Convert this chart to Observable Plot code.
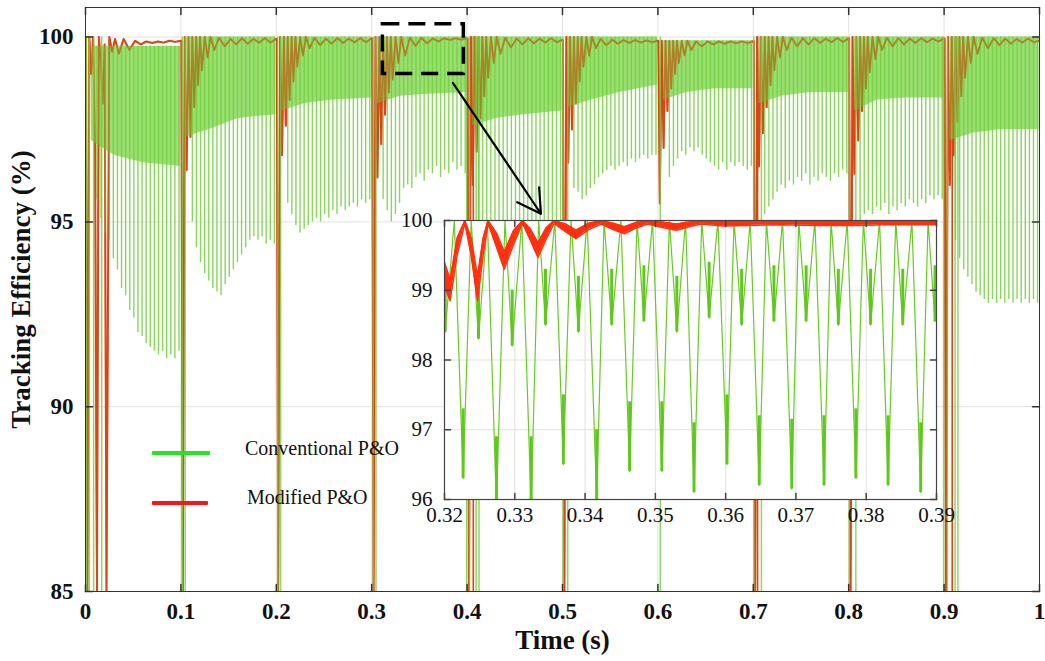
<!DOCTYPE html>
<html><head><meta charset="utf-8">
<script src="https://cdn.jsdelivr.net/npm/d3@7"></script>
<script src="https://cdn.jsdelivr.net/npm/@observablehq/plot@0.6"></script>
<style>
body{margin:0;background:#fff;}
#wrap{position:relative;width:1045px;height:661px;overflow:hidden;background:#fff;}
#main{position:absolute;left:0;top:0;}
#inset{position:absolute;left:394px;top:200px;}
.legtxt{position:absolute;font-family:"Liberation Serif","Times New Roman",serif;font-size:20px;color:#111;white-space:nowrap;}
.legline{position:absolute;height:4px;border-radius:1px;}
</style></head><body>
<div id="wrap"><div id="main"></div><div id="inset"></div>
<div class="legline" style="left:152px;top:451px;width:58px;background:#22e822;"></div>
<div class="legtxt" style="left:245px;top:437px;">Conventional P&amp;O</div>
<div class="legline" style="left:152px;top:501px;width:56px;background:#ff1414;"></div>
<div class="legtxt" style="left:247px;top:486px;">Modified P&amp;O</div>
</div>
<script>
// ---------------- data ----------------
const segStarts = [0, 0.1, 0.2, 0.3, 0.4, 0.5, 0.6, 0.7, 0.8, 0.9];
const xTicks = [0, 0.1, 0.2, 0.3, 0.4, 0.5, 0.6, 0.7, 0.8, 0.9, 1];
const yTicks = [85, 90, 95, 100];

// deep dips of conventional P&O (offset within each 0.1 s segment)
const dipOffsets = [0.012, 0.0163, 0.0206, 0.0249, 0.0292, 0.0335, 0.0378, 0.0421, 0.0464, 0.0507, 0.055, 0.0593, 0.0636, 0.0679, 0.0722, 0.0765, 0.0808, 0.0851, 0.0894, 0.0937, 0.098];
const dipDepths = [
  [95.6, 95.1, 94.7, 94.5, 94.0, 93.7, 93.2, 93.0, 92.6, 92.4, 92.0, 91.9, 91.7, 91.6, 91.5, 91.4, 91.5, 91.3, 91.4, 91.3, 91.5],
  [95.0, 94.3, 93.9, 93.6, 93.4, 93.2, 93.1, 93.0, 93.3, 93.5, 93.7, 93.9, 94.1, 94.3, 94.5, 94.6, 94.5, 94.6, 94.4, 94.5, 94.4],
  [95.5, 95.2, 94.9, 94.7, 94.8, 94.9, 95.0, 95.1, 95.0, 95.2, 95.1, 95.3, 95.2, 95.4, 95.3, 95.4, 95.5, 95.4, 95.6, 95.5, 95.6],
  [95.6, 95.3, 95.0, 95.2, 95.5, 95.9, 96.0, 95.9, 96.2, 96.3, 96.1, 96.4, 96.3, 96.5, 96.2, 96.4, 96.3, 96.6, 96.4, 96.5, 96.3],
  [94.6, 94.2, 94.0, 93.8, 93.7, 93.6, 93.5, 93.6, 93.5, 93.7, 93.6, 93.8, 93.7, 93.9, 93.8, 94.0, 93.9, 94.1, 94.0, 94.2, 94.1],
  [95.9, 95.8, 95.6, 95.7, 95.9, 96.0, 96.2, 96.3, 96.4, 96.5, 96.4, 96.5, 96.6, 96.5, 96.7, 96.6, 96.7, 96.8, 96.7, 96.8, 96.8],
  [96.2, 96.5, 96.7, 96.9, 96.8, 97.0, 96.9, 97.0, 96.8, 96.7, 96.6, 96.5, 96.4, 96.6, 96.4, 96.6, 96.5, 96.6, 96.5, 96.4, 96.5],
  [95.2, 95.4, 95.6, 95.8, 96.0, 95.9, 96.1, 96.0, 96.2, 96.1, 96.3, 96.0, 96.2, 96.1, 96.3, 96.2, 96.1, 96.3, 96.2, 96.4, 96.3],
  [95.0, 95.2, 95.3, 95.2, 95.4, 95.3, 95.5, 95.2, 95.4, 95.3, 95.5, 95.4, 95.6, 95.5, 95.4, 95.6, 95.5, 95.7, 95.6, 95.7, 95.6],
  [94.5, 94.0, 93.7, 93.5, 93.3, 93.1, 93.0, 92.9, 92.8, 92.9, 92.8, 92.9, 92.8, 92.9, 92.8, 92.9, 92.8, 92.9, 92.8, 92.9, 92.8]
];

// dense oscillation band of conventional P&O
const bandOffsets = [0.006, 0.03, 0.06, 0.0995];
const bandLow = [
  [97.2, 96.8, 96.6, 96.5], [97.3, 97.5, 97.8, 97.9], [98.0, 98.2, 98.3, 98.35],
  [98.2, 98.4, 98.45, 98.5], [97.6, 97.8, 97.9, 98.0], [98.1, 98.3, 98.5, 98.7],
  [98.3, 98.5, 98.6, 98.6], [98.2, 98.4, 98.5, 98.5], [98.0, 98.3, 98.35, 98.35],
  [97.2, 97.4, 97.5, 97.5]
];
const bandHigh = [99.75, 100, 100, 100, 100, 100, 99.9, 100, 100, 100];

// transient drops of conventional P&O at each step
const greenDropT = [0.001, 0.004, 0.0085, 0.017, 0.1015, 0.1045, 0.2015, 0.2045, 0.3015, 0.3045, 0.3995, 0.4025, 0.4095, 0.4125, 0.5005, 0.5055, 0.6025, 0.7005, 0.7085, 0.8005, 0.8075, 0.8995, 0.9035, 0.9115, 0.9145];
const greenDropMin = [85, 85, 85, 85, 85, 85, 85, 85, 85, 85, 85, 85, 85, 85, 85, 85, 85, 85, 85, 85, 85, 85, 85, 85, 85];

// modified P&O
const redOffsets = [0.0005, 0.002, 0.004, 0.006, 0.008, 0.010, 0.012, 0.014, 0.016, 0.018, 0.020, 0.022, 0.025, 0.028, 0.031, 0.035, 0.040, 0.046, 0.052, 0.058, 0.064, 0.070, 0.076, 0.082, 0.088, 0.094, 0.0995];
const redValues = [
  [100, 85, 100, 99.0, 100, 97.0, 85, 100, 99.4, 98.2, 99.8, 85, 100, 99.6, 99.95, 99.55, 99.95, 99.65, 99.9, 99.8, 99.88, 99.84, 99.88, 99.85, 99.9, 99.87, 99.9],
  [99.9, 85, 100, 96.4, 100, 97.3, 100, 98.1, 100, 98.7, 100, 99.1, 100, 99.45, 100, 99.65, 99.98, 99.75, 99.95, 99.8, 99.97, 99.82, 99.95, 99.85, 99.97, 99.85, 99.95],
  [99.95, 85, 100, 96.8, 100, 97.6, 100, 98.3, 100, 98.8, 100, 99.2, 100, 99.5, 100, 99.7, 99.98, 99.78, 99.96, 99.82, 99.97, 99.84, 99.96, 99.86, 99.97, 99.86, 99.96],
  [99.96, 85, 100, 96.2, 100, 97.1, 100, 97.9, 100, 98.5, 100, 98.85, 100, 99.3, 100, 99.5, 99.98, 99.76, 99.98, 99.83, 99.96, 99.88, 99.97, 99.92, 99.97, 99.93, 99.96],
  [99.96, 85, 100, 96.0, 100, 96.9, 100, 97.8, 100, 98.4, 100, 98.9, 100, 99.3, 100, 99.55, 99.98, 99.72, 99.96, 99.8, 99.97, 99.83, 99.96, 99.85, 99.97, 99.86, 99.92],
  [99.92, 85, 100, 96.6, 100, 97.5, 100, 98.2, 100, 98.8, 100, 99.2, 100, 99.5, 100, 99.7, 99.95, 99.78, 99.93, 99.82, 99.92, 99.84, 99.92, 99.85, 99.91, 99.86, 99.9],
  [99.9, 95.5, 99.9, 97.0, 99.9, 98.0, 99.9, 98.6, 99.9, 99.0, 99.9, 99.3, 99.9, 99.5, 99.9, 99.65, 99.88, 99.75, 99.88, 99.8, 99.88, 99.82, 99.88, 99.83, 99.88, 99.84, 99.88],
  [99.9, 85, 100, 96.5, 100, 97.4, 100, 98.1, 100, 98.7, 100, 99.1, 100, 99.45, 100, 99.65, 99.98, 99.75, 99.97, 99.8, 99.97, 99.84, 99.96, 99.86, 99.97, 99.87, 99.96],
  [99.96, 85, 100, 96.3, 100, 97.2, 100, 98.0, 100, 98.6, 100, 99.05, 100, 99.4, 100, 99.65, 99.98, 99.75, 99.97, 99.8, 99.96, 99.84, 99.97, 99.86, 99.96, 99.88, 99.96],
  [99.96, 85, 100, 96.0, 100, 96.8, 100, 97.7, 100, 98.4, 100, 98.9, 100, 99.3, 100, 99.55, 99.98, 99.7, 99.97, 99.78, 99.96, 99.82, 99.95, 99.85, 99.96, 99.86, 99.9]
];
const redDropT = [0.4065, 0.7045, 0.9085];
const redDropMin = [85, 85, 85];

// zoom annotation (data coordinates)
const zoomBox = [{x1: 0.3117, x2: 0.3966, y1: 99.0, y2: 100.35}];
const zoomArrow = [{x1: 0.3851, y1: 98.76, x2: 0.4774, y2: 95.22}];

// inset (0.32 - 0.39 s)
const insetXTicks = [0.32, 0.33, 0.34, 0.35, 0.36, 0.37, 0.38, 0.39];
const insetYTicks = [96, 97, 98, 99, 100];
const insetMidT = [0.32010, 0.32484, 0.32963, 0.33437, 0.33905, 0.34379, 0.34837, 0.35306, 0.35765, 0.36228, 0.36687, 0.37145, 0.37603, 0.38062, 0.38520, 0.38979];
const insetMidV = [98.4, 98.3, 98.2, 98.5, 98.4, 98.5, 98.55, 98.4, 98.6, 98.5, 98.55, 98.55, 98.5, 98.5, 98.5, 98.55];
const insetDeepT = [0.32265, 0.32739, 0.33233, 0.33691, 0.34165, 0.34634, 0.35092, 0.35550, 0.36019, 0.36478, 0.36941, 0.37400, 0.37853, 0.38311, 0.38775];
const insetDeepV = [96.3, 95.9, 95.9, 96.5, 96.0, 96.4, 96.4, 96.1, 96.5, 96.2, 96.15, 96.2, 96.3, 96.2, 96.1];
const insetPeakT = [0.3214, 0.3238, 0.3261, 0.3286, 0.3310, 0.3334, 0.3357, 0.3380, 0.3403, 0.3427, 0.3451, 0.3474, 0.3496, 0.3520, 0.3543, 0.3566, 0.3589, 0.3612, 0.3635, 0.3658, 0.3681, 0.3704, 0.3727, 0.3750, 0.3773, 0.3796, 0.3819, 0.3842, 0.3865, 0.3888];
const insetPeakV = 100;
const insetRedT = [0.3200, 0.3208, 0.3218, 0.3229, 0.3238, 0.3247, 0.3255, 0.3262, 0.3274, 0.3285, 0.3298, 0.3311, 0.3322, 0.3333, 0.3345, 0.3356, 0.3372, 0.3387, 0.3405, 0.3423, 0.3440, 0.3456, 0.3472, 0.3489, 0.3510, 0.3530, 0.3548, 0.3565, 0.3596, 0.3630, 0.3680, 0.3730, 0.3780, 0.3830, 0.3900];
const insetRedLo = [99.05, 98.85, 99.5, 99.96, 99.5, 98.85, 99.5, 99.96, 99.62, 99.3, 99.65, 99.96, 99.72, 99.47, 99.74, 99.96, 99.84, 99.74, 99.87, 99.95, 99.87, 99.81, 99.89, 99.95, 99.9, 99.86, 99.91, 99.95, 99.92, 99.93, 99.94, 99.93, 99.93, 99.94, 99.94];
const insetRedHi = [99.4, 99.15, 99.75, 100, 99.75, 99.2, 99.75, 100, 99.82, 99.55, 99.85, 100, 99.88, 99.68, 99.9, 100, 99.95, 99.86, 99.96, 100, 99.96, 99.91, 99.97, 100, 99.98, 99.95, 99.98, 100, 99.99, 100, 100, 100, 100, 100, 100];

// ---------------- build tables ----------------
const GREEN = "#72d03e", GREEN_BAND = "#7fd64c", RED = "#ef3a16";
const dips = [], band = [], red = [];
segStarts.forEach((s, k) => {
  dipOffsets.forEach((o, i) => dips.push({t: s + o, v: dipDepths[k][i], top: bandHigh[k]}));
  bandOffsets.forEach((o, i) => band.push({t: s + o, lo: bandLow[k][i], hi: bandHigh[k], seg: k}));
  redOffsets.forEach((o, i) => red.push({t: s + o, v: redValues[k][i]}));
});
const gDrops = greenDropT.map((t, i) => ({t, v: greenDropMin[i]}));
const rDrops = redDropT.map((t, i) => ({t, v: redDropMin[i]}));
const tickShape = {draw(ctx, l) { ctx.moveTo(0, 0); ctx.lineTo(0, -l); }};
const fmt = d3.format("~g");

const main = Plot.plot({
  width: 1045, height: 661,
  marginLeft: 85, marginRight: 6, marginTop: 7, marginBottom: 70,
  x: {domain: [0, 1]},
  y: {domain: [85, 100.8]},
  style: {fontFamily: "'Liberation Serif','Times New Roman',serif", fontSize: "22px", fontWeight: "bold", color: "#111", background: "transparent"},
  marks: [
    Plot.ruleX(xTicks.slice(1, -1), {x: d => d, stroke: "#e2e2e2"}),
    Plot.ruleY([90, 95, 100], {y: d => d, stroke: "#e2e2e2"}),
    Plot.line(red, {x: "t", y: "v", stroke: RED, strokeWidth: 2, clip: true}),
    Plot.ruleX(rDrops, {x: "t", y1: "v", y2: 100, stroke: RED, strokeWidth: 1.6}),
    Plot.areaY(band, {x: "t", y1: "lo", y2: "hi", z: "seg", fill: GREEN_BAND, fillOpacity: 0.78}),
    Plot.ruleX(dips, {x: "t", y1: "v", y2: "top", stroke: GREEN, strokeWidth: 1.4, strokeOpacity: 0.85}),
    Plot.line(red, {x: "t", y: "v", stroke: "#c8501a", strokeWidth: 1.6, strokeOpacity: 0.55, clip: true}),
    Plot.ruleX(gDrops, {x: "t", y1: "v", y2: 100, stroke: GREEN, strokeWidth: 1.5, strokeOpacity: 0.8}),
    Plot.frame({stroke: "#333", strokeWidth: 1}),
    Plot.vector(xTicks, {x: d => d, frameAnchor: "bottom", length: 7, anchor: "start", shape: tickShape, stroke: "#333"}),
    Plot.vector(xTicks, {x: d => d, frameAnchor: "top", length: 7, rotate: 180, anchor: "start", shape: tickShape, stroke: "#333"}),
    Plot.vector(yTicks, {y: d => d, frameAnchor: "left", length: 7, rotate: 90, anchor: "start", shape: tickShape, stroke: "#333"}),
    Plot.vector(yTicks, {y: d => d, frameAnchor: "right", length: 7, rotate: -90, anchor: "start", shape: tickShape, stroke: "#333"}),
    Plot.axisX(xTicks, {tickSize: 0, tickPadding: 11, tickFormat: fmt, label: null, fontSize: 23}),
    Plot.axisY(yTicks, {tickSize: 0, tickPadding: 12, tickFormat: fmt, label: null, fontSize: 23}),
    Plot.text(["Time (s)"], {frameAnchor: "bottom", dy: 57, text: d => d, fontSize: 27, textAnchor: "middle"}),
    Plot.text(["Tracking Efficiency (%)"], {frameAnchor: "left", dx: -64, dy: -10, rotate: -90, text: d => d, fontSize: 27, textAnchor: "middle"}),
    Plot.rect(zoomBox, {x1: "x1", x2: "x2", y1: "y1", y2: "y2", fill: "none", stroke: "#000", strokeWidth: 3.5, strokeDasharray: "17,9"}),
    Plot.arrow(zoomArrow, {x1: "x1", y1: "y1", x2: "x2", y2: "y2", stroke: "#000", strokeWidth: 2.2, headLength: 18})
  ]
});
document.getElementById("main").appendChild(main);

// inset
const insetGreen = [
  ...insetMidT.map((t, i) => ({t, v: insetMidV[i]})),
  ...insetDeepT.map((t, i) => ({t, v: insetDeepV[i]})),
  ...insetPeakT.map(t => ({t, v: insetPeakV}))
].sort((a, b) => a.t - b.t);
const insetMid = insetMidT.map((t, i) => ({t, v: insetMidV[i]}));
const insetDeep = insetDeepT.map((t, i) => ({t, v: insetDeepV[i]}));
const insetRed = insetRedT.map((t, i) => ({t, lo: insetRedLo[i], hi: insetRedHi[i]}));

const inset = Plot.plot({
  width: 572, height: 339,
  marginLeft: 50, marginRight: 30, marginTop: 20, marginBottom: 40,
  x: {domain: [0.32, 0.39]},
  y: {domain: [96, 100]},
  style: {fontFamily: "'Liberation Serif','Times New Roman',serif", fontSize: "21px", color: "#111", background: "transparent"},
  marks: [
    Plot.frame({fill: "#fff"}),
    Plot.ruleX(insetXTicks.slice(1, -1), {x: d => d, stroke: "#e0e0e0"}),
    Plot.ruleY([97, 98, 99], {y: d => d, stroke: "#e0e0e0"}),
    Plot.line(insetGreen, {x: "t", y: "v", stroke: "#66cc22", strokeWidth: 1.2, clip: true}),
    Plot.ruleX(insetMid, {x: "t", y1: "v", y2: d => d.v + 0.8, stroke: "#5fc81c", strokeWidth: 3, clip: true}),
    Plot.ruleX(insetDeep, {x: "t", y1: d => Math.max(d.v, 96), y2: d => d.v + 1.0, stroke: "#5fc81c", strokeWidth: 3, clip: true}),
    Plot.areaY(insetRed, {x: "t", y1: "lo", y2: "hi", fill: "#ff3010", clip: true}),
    Plot.line(insetRed, {x: "t", y: "lo", stroke: "#ff3010", strokeWidth: 1.5, clip: true}),
    Plot.line(insetRed, {x: "t", y: "hi", stroke: "#ff3010", strokeWidth: 1.5, clip: true}),
    Plot.frame({stroke: "#444", strokeWidth: 1.2}),
    Plot.vector(insetXTicks, {x: d => d, frameAnchor: "bottom", length: 6, anchor: "start", shape: tickShape, stroke: "#444"}),
    Plot.vector(insetXTicks, {x: d => d, frameAnchor: "top", length: 6, rotate: 180, anchor: "start", shape: tickShape, stroke: "#444"}),
    Plot.vector(insetYTicks, {y: d => d, frameAnchor: "left", length: 6, rotate: 90, anchor: "start", shape: tickShape, stroke: "#444"}),
    Plot.vector(insetYTicks, {y: d => d, frameAnchor: "right", length: 6, rotate: -90, anchor: "start", shape: tickShape, stroke: "#444"}),
    Plot.axisX(insetXTicks, {tickSize: 0, tickPadding: 8, tickFormat: d3.format(".2f"), label: null}),
    Plot.axisY(insetYTicks, {tickSize: 0, tickPadding: 12, tickFormat: fmt, label: null})
  ]
});
document.getElementById("inset").appendChild(inset);
</script>
</body></html>
